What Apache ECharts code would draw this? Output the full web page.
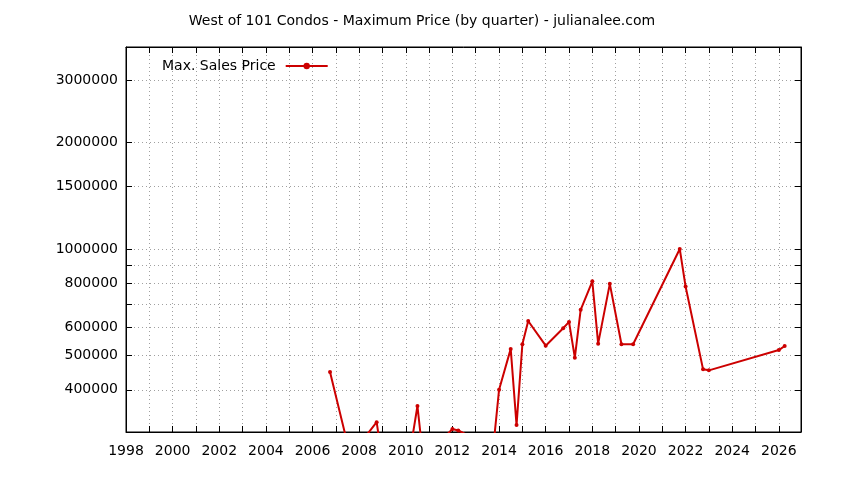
<!DOCTYPE html>
<html><head><meta charset="utf-8">
<script src="https://cdn.jsdelivr.net/npm/echarts@6/dist/echarts.min.js"></script>
<style>html,body{margin:0;padding:0;background:#fff}#chart{width:844px;height:480px}</style>
</head><body><div id="chart"></div>
<script>
// Quarter start (decimal year) and maximum sale price in that quarter
const quarters = [2006.75, 2007.75, 2008.25, 2008.75, 2009.0, 2010.25, 2010.5, 2010.75, 2012.0, 2012.25, 2013.75, 2014.0, 2014.5, 2014.75, 2015.0, 2015.25, 2016.0, 2016.75, 2017.0, 2017.25, 2017.5, 2018.0, 2018.25, 2018.75, 2019.25, 2019.75, 2021.75, 2022.0, 2022.75, 2023.0, 2026.0, 2026.25];
const maxPrice = [449000, 241000, 294000, 324000, 252000, 285000, 360000, 254000, 310000, 307000, 274000, 400000, 522000, 318000, 538000, 626000, 533000, 597000, 622000, 493000, 673000, 810000, 540000, 797000, 538000, 538000, 1000000, 783000, 457000, 454000, 518000, 532000];
const yTickValues = [400000, 500000, 600000, 700000, 800000, 900000, 1000000, 1500000, 2000000, 3000000];
const yLabelValues = [400000, 500000, 600000, 800000, 1000000, 1500000, 2000000, 3000000];
const xTickValues = [1998,1999,2000,2001,2002,2003,2004,2005,2006,2007,2008,2009,2010,2011,2012,2013,2014,2015,2016,2017,2018,2019,2020,2021,2022,2023,2024,2025,2026];
const xLabelValues = [1998,2000,2002,2004,2006,2008,2010,2012,2014,2016,2018,2020,2022,2024,2026];
const seriesName = 'Max. Sales Price';
const chartTitle = 'West of 101 Condos - Maximum Price (by quarter) - julianalee.com';

const FONT = 'DejaVu Sans';
const chart = echarts.init(document.getElementById('chart'), null, {renderer: 'canvas'});
const gridLine = {show: true, lineStyle: {color: '#a0a0a0', width: 1, type: [1, 3]}};
const xBase = {
  type: 'value', min: 1998, max: 2026.95,
  axisLine: {show: true, lineStyle: {color: '#000', width: 1}},
  axisTick: {show: true, inside: true, length: 6, customValues: xTickValues, lineStyle: {color: '#000'}},
};
const yBase = {
  type: 'log', logBase: 10, min: 304000, max: 3720000,
  axisLine: {show: true, lineStyle: {color: '#000', width: 1}},
  axisTick: {show: true, inside: true, length: 6, customValues: yTickValues, lineStyle: {color: '#000'}},
};
chart.setOption({
  animation: false,
  backgroundColor: '#fff',
  title: {text: chartTitle, left: 'center', top: 9,
    textStyle: {fontFamily: FONT, fontSize: 14, fontWeight: 'normal', color: '#000'}},
  legend: {left: 157, top: 54, align: 'right', itemWidth: 42, itemHeight: 8,
    textStyle: {fontFamily: FONT, fontSize: 14, color: '#000', padding: [0, 5, 0, 0]}, data: [seriesName]},
  grid: {left: 126, right: 43, top: 47, bottom: 48, show: true, borderColor: '#000', borderWidth: 1},
  xAxis: [
    Object.assign({}, xBase, {position: 'bottom',
      axisLabel: {customValues: xLabelValues, fontFamily: FONT, fontSize: 14, color: '#000', margin: 12,
        formatter: v => String(Math.round(v))},
      splitLine: gridLine}),
    Object.assign({}, xBase, {position: 'top', axisLabel: {show: false}, splitLine: {show: false}})
  ],
  yAxis: [
    Object.assign({}, yBase, {position: 'left',
      axisLabel: {customValues: yLabelValues, fontFamily: FONT, fontSize: 14, color: '#000', margin: 8,
        formatter: v => String(Math.round(v))},
      splitLine: gridLine, minorSplitLine: {show: false}}),
    Object.assign({}, yBase, {position: 'right', axisLabel: {show: false}, splitLine: {show: false}})
  ],
  series: [{
    name: seriesName, type: 'line', xAxisIndex: 0, yAxisIndex: 0,
    data: quarters.map((q, i) => [q, maxPrice[i]]),
    symbol: 'circle', symbolSize: 4, clip: true,
    lineStyle: {color: '#cc0000', width: 2},
    itemStyle: {color: '#cc0000'}
  }]
});
</script></body></html>
